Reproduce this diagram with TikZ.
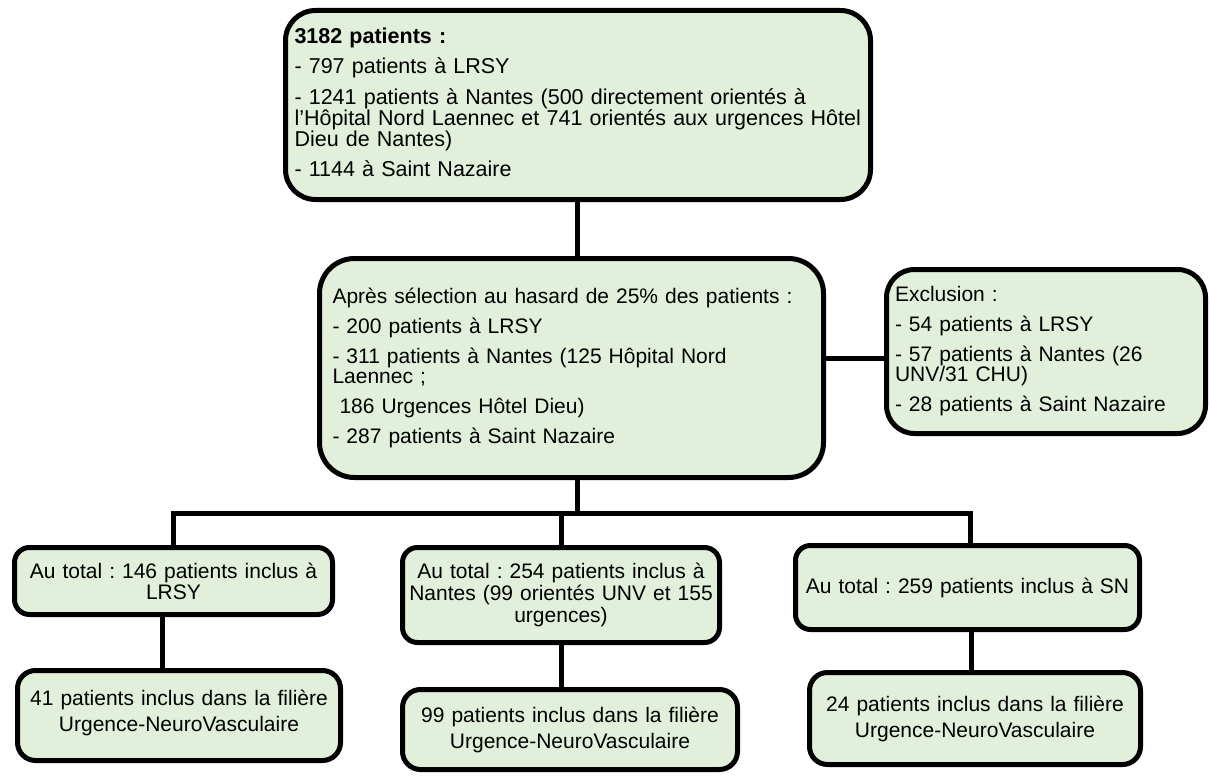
\documentclass[tikz,border=0pt]{standalone}
\usepackage{fontspec}
\setmainfont{Liberation Sans}
\frenchspacing
\hyphenpenalty=10000
\exhyphenpenalty=10000
\lineskiplimit=-30pt
\definecolor{boxgreen}{RGB}{226,239,218}
\tikzset{
  box/.style={draw=black, line width=5pt, fill=boxgreen, rounded corners=#1,
    inner xsep=0pt, inner ysep=0pt, anchor=center,
    font=\fontsize{21}{20}\selectfont},
  listbox/.style={box=#1, align=left},
  centbox/.style={box=#1, align=center},
  link/.style={draw=black, line width=5pt}
}
\begin{document}
\begin{tikzpicture}[x=1pt, y=-1pt]
\useasboundingbox (0,0) rectangle (1211,776);

\node[listbox=30pt, minimum width=585pt, minimum height=189pt, text width=567pt,
      font=\fontsize{21.5}{18}\selectfont] (T) at (578,105)
{\textbf{3182 patients :}\\[9pt]
- 797 patients à LRSY\\[9pt]
- 1241 patients à Nantes (500 directement orientés à\\
l’Hôpital Nord Laennec et 741 orientés aux urgences Hôtel\\
Dieu de Nantes)\\[9pt]
- 1144 à Saint Nazaire\\[-13pt]\mbox{}};

\node[listbox=35pt, minimum width=504pt, minimum height=219pt, text width=478pt] (M) at (571.5,368)
{Après sélection au hasard de 25\% des patients :\\[10pt]
- 200 patients à LRSY\\[10pt]
- 311 patients à Nantes (125 Hôpital Nord\\
Laennec ;\\[10pt]
\ 186 Urgences Hôtel Dieu)\\[10pt]
- 287 patients à Saint Nazaire};

\node[listbox=28pt, minimum width=319pt, minimum height=164pt, text width=302pt] (E) at (1046,351.5)
{Exclusion :\\[10pt]
- 54 patients à LRSY\\[10pt]
- 57 patients à Nantes (26\\
UNV/31 CHU)\\[10pt]
- 28 patients à Saint Nazaire};

\node[centbox=15pt, minimum width=318pt, minimum height=67pt, text width=310pt] (A1) at (173.5,581)
{Au total : 146 patients inclus à\\[1pt] LRSY};
\node[centbox=15pt, minimum width=317pt, minimum height=95pt, text width=312pt] (A2) at (561,595)
{Au total : 254 patients inclus à\\[2pt] Nantes (99 orientés UNV et 155\\[2pt] urgences)};
\node[centbox=15pt, minimum width=344pt, minimum height=84pt, text width=336pt] (A3) at (967.5,587.5)
{Au total : 259 patients inclus à SN};

\node[centbox=18pt, minimum width=323pt, minimum height=90pt, text width=315pt] (B1) at (179,715.5)
{41 patients inclus dans la filière\\[6pt] Urgence-NeuroVasculaire\\[-10pt]\mbox{}};
\node[centbox=18pt, minimum width=335pt, minimum height=80pt, text width=325pt] (B2) at (570,729.5)
{99 patients inclus dans la filière\\[6pt] Urgence-NeuroVasculaire};
\node[centbox=18pt, minimum width=331pt, minimum height=92pt, text width=323pt] (B3) at (975,718.5)
{24 patients inclus dans la filière\\[6pt] Urgence-NeuroVasculaire};

\coordinate (busL) at (173,513);
\coordinate (busC) at (577,513);
\coordinate (busR) at (970,513);

\draw[link] (T.south -| busC) -- (M.north -| busC);
\draw[link] ([yshift=-6.5pt]E.west) -- ([yshift=-6.5pt]E.west -| M.east);
\draw[link] (M.south -| busC) -- (busC);
\draw[link] (busL |- A1.north) -- (busL) -- (busR) -- (busR |- A3.north);
\draw[link] (A2.north) -- (A2.north |- busC);
\draw[link] ([xshift=-11.5pt]A1.south) -- ([xshift=-11.5pt]A1.south |- B1.north);
\draw[link] (A2.south) -- (A2.south |- B2.north);
\draw[link] ([xshift=3.5pt]A3.south) -- ([xshift=3.5pt]A3.south |- B3.north);
\end{tikzpicture}
\end{document}
